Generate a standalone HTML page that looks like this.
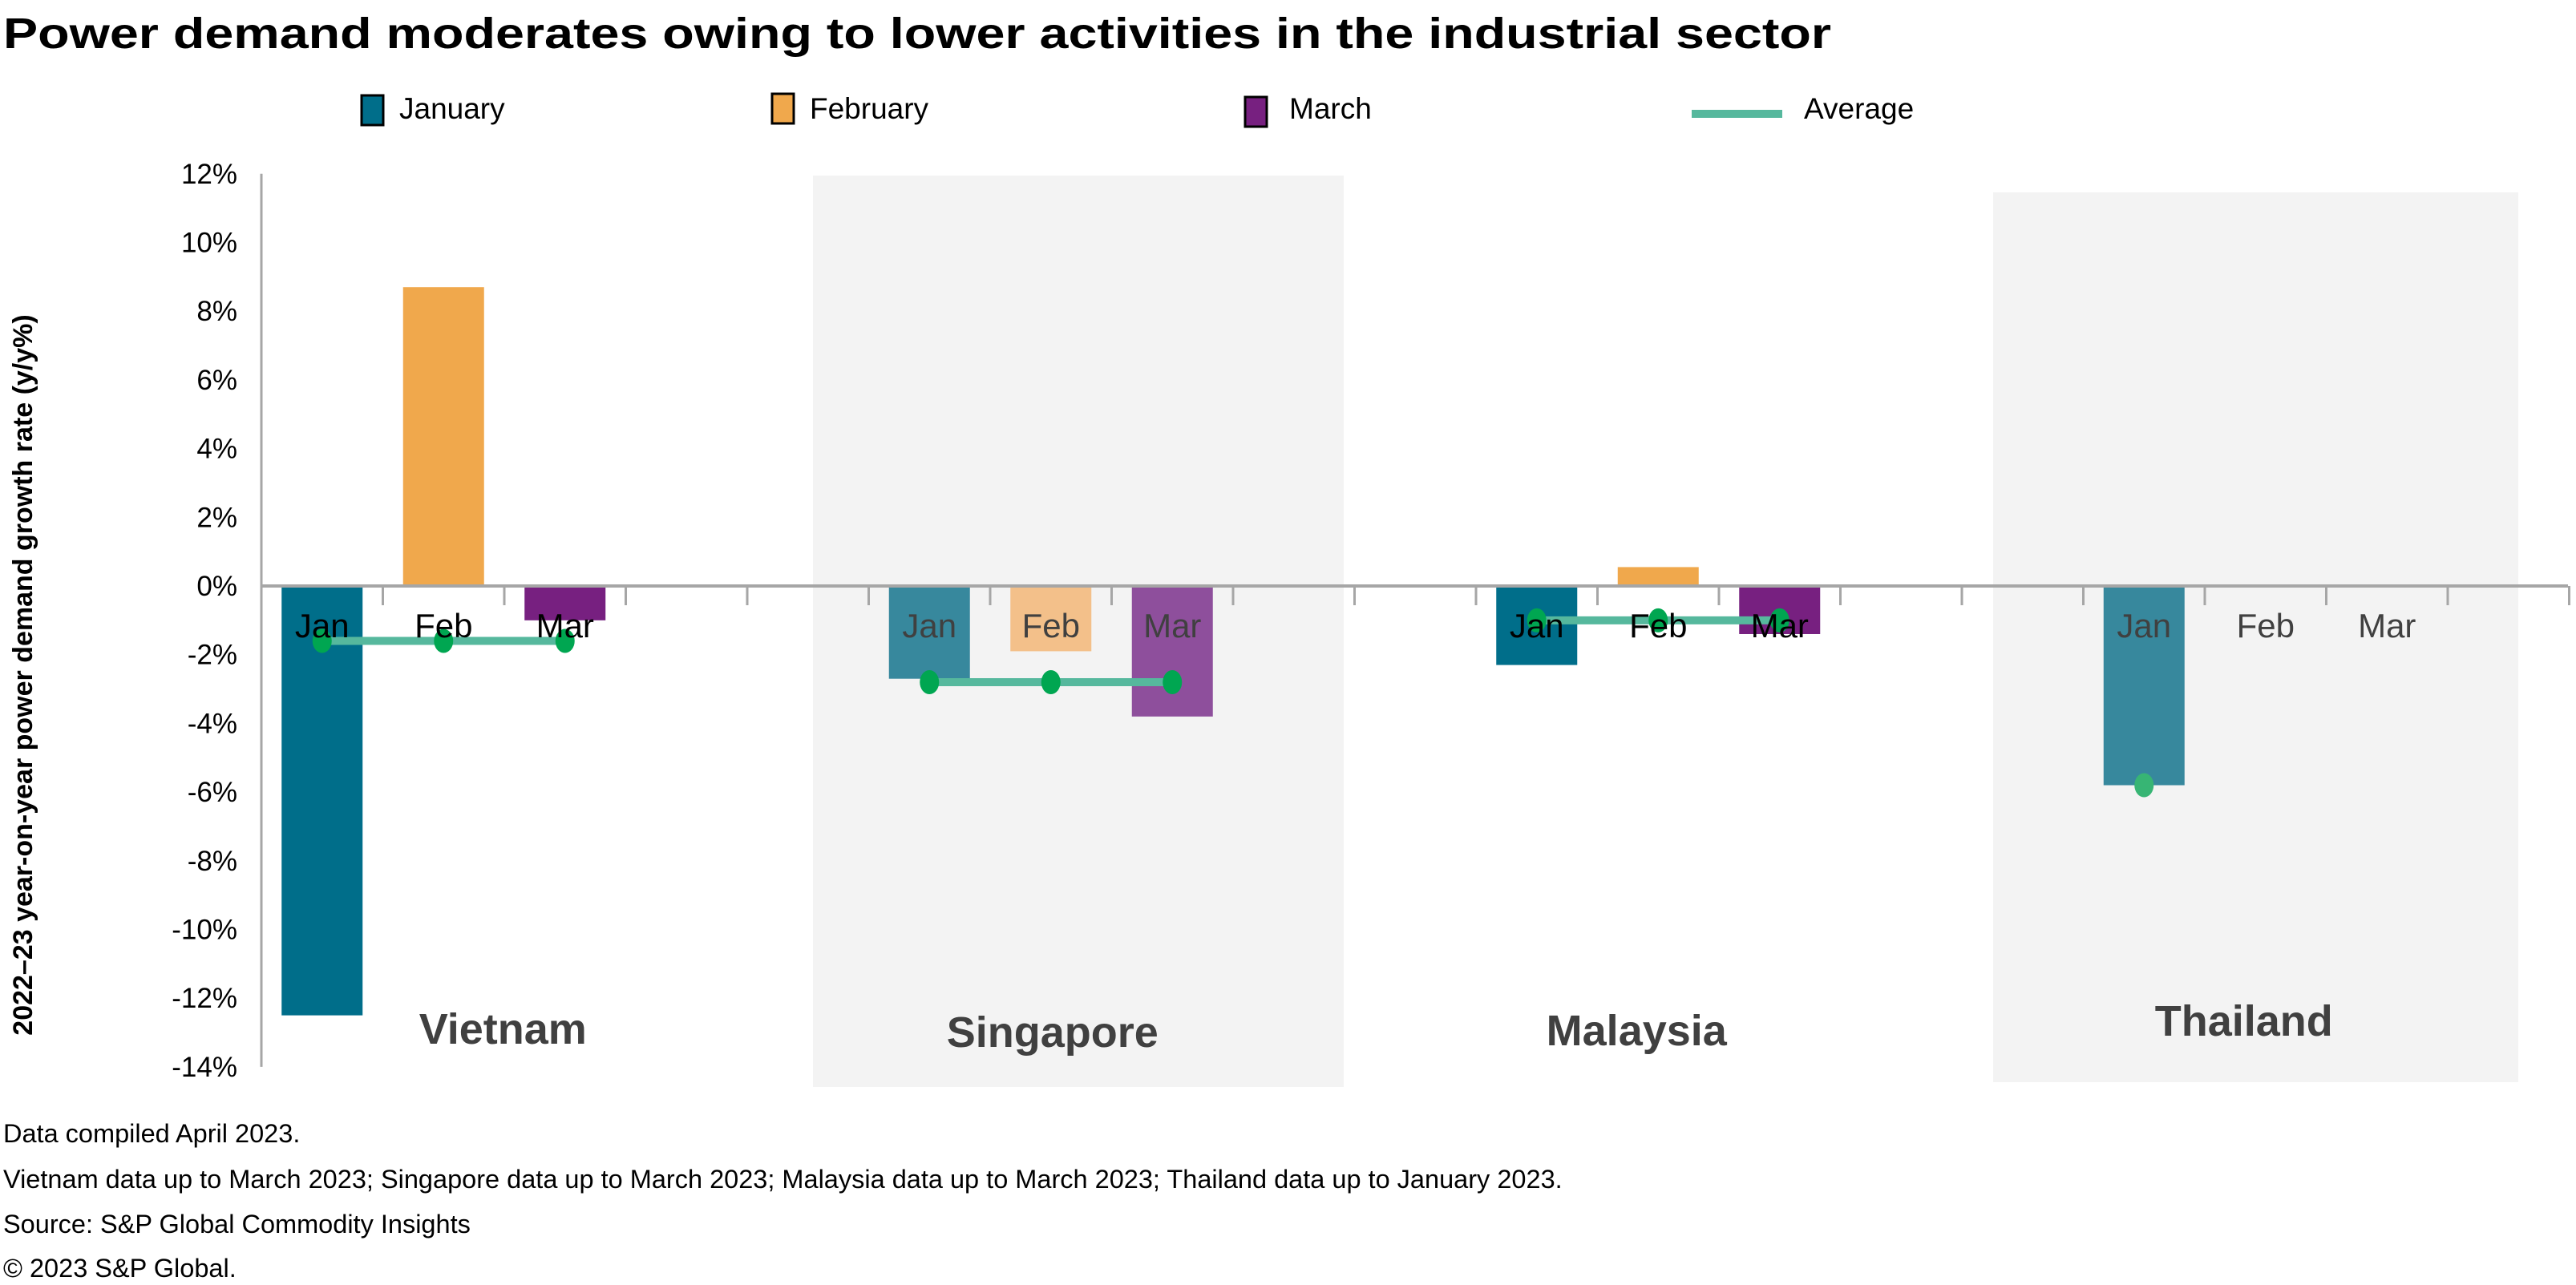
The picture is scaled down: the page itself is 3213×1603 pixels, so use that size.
<!DOCTYPE html>
<html><head><meta charset="utf-8"><style>
html,body{margin:0;padding:0;background:#fff}
svg{display:block;font-family:"Liberation Sans",Arial,sans-serif}
</style></head><body>
<svg id="chart" width="3213" height="1603" viewBox="0 0 3213 1603">
<text x="4" y="60" font-size="54" font-weight="bold" fill="#000" textLength="2280" lengthAdjust="spacingAndGlyphs">Power demand moderates owing to lower activities in the industrial sector</text>
<g font-size="37" fill="#000">
<g><rect x="451" y="119" width="27" height="37" fill="#006e8a" stroke="#000" stroke-width="3"/><text x="498" y="148">January</text></g>
<g><rect x="963" y="117" width="27" height="37" fill="#f0a84c" stroke="#000" stroke-width="3"/><text x="1010" y="148">February</text></g>
<g><rect x="1553" y="121" width="27" height="37" fill="#772080" stroke="#000" stroke-width="3"/><text x="1608" y="148">March</text></g>
<g><line x1="2110" y1="142" x2="2223" y2="142" stroke="#56b89d" stroke-width="10"/><text x="2250" y="148">Average</text></g>
</g>
<text transform="translate(40,842) rotate(-90)" text-anchor="middle" font-size="34" font-weight="bold" fill="#000">2022–23 year-on-year power demand growth rate (y/y%)</text>
<g id="plot"></g>
<g font-size="32.5" fill="#000">
<text x="4" y="1425">Data compiled April 2023.</text>
<text x="4" y="1482">Vietnam data up to March 2023; Singapore data up to March 2023; Malaysia data up to March 2023; Thailand data up to January 2023.</text>
<text x="4" y="1538">Source: S&amp;P Global Commodity Insights</text>
<text x="4" y="1593">© 2023 S&amp;P Global.</text>
</g>
</svg>
<script>
const countries = ["Vietnam", "Singapore", "Malaysia", "Thailand"];
const months = ["Jan", "Feb", "Mar"];
const janValues = [-12.5, -2.7, -2.3, -5.8];
const febValues = [8.7, -1.9, 0.55, null];
const marValues = [-1.0, -3.8, -1.4, null];
const avgValues = [-1.6, -2.8, -1.0, -5.8];
const yTicks = [12, 10, 8, 6, 4, 2, 0, -2, -4, -6, -8, -10, -12, -14];
const tickLabels = ["12%","10%","8%","6%","4%","2%","0%","-2%","-4%","-6%","-8%","-10%","-12%","-14%"];

const NS = "http://www.w3.org/2000/svg";
const plot = document.getElementById("plot");
const X0 = 326, SLOT = 151.5, NSLOTS = 19;
const Y0 = 731, PX = 42.85;
function y(v){ return Y0 - v*PX; }
function slotX(i){ return X0 + i*SLOT; }
function slotOf(c, m){ return c*5 + m; }
function mk(tag, attrs){ const e = document.createElementNS(NS, tag); for (const k in attrs) e.setAttribute(k, attrs[k]); plot.appendChild(e); return e; }

const shade = [{c:1, x1:1014, x2:1676, y1:219, y2:1356},{c:3, x1:2486, x2:3141, y1:240, y2:1350}];
shade.forEach(s => {
  const r = mk("rect", {x:s.x1, y:s.y1, width:s.x2-s.x1, height:s.y2-s.y1, fill:"#f3f3f3"});
  
  
});

yTicks.forEach((t, i) => {
  const tx = mk("text", {x:296, y:y(t)+12, "text-anchor":"end", "font-size":"35", fill:"#000"});
  tx.textContent = tickLabels[i];
  
  
});

const series = [janValues, febValues, marValues];
const fullColors = ["#006e8a", "#f0a84c", "#772080"];
const lightColors = ["#37889d", "#f3c08a", "#8e4f9c"];
const BW = 101;
countries.forEach((c, ci) => {
  const light = (ci === 1 || ci === 3);
  series.forEach((vals, mi) => {
    const v = vals[ci];
    if (v === null) return;
    const cx = slotX(slotOf(ci, mi)) + SLOT/2;
    const r = mk("rect", {x:cx-BW/2, y:Math.min(y(0), y(v)), width:BW, height:Math.abs(y(v)-y(0)), fill: light ? lightColors[mi] : fullColors[mi]});
    
    
  });
});

const ax = mk("line", {x1:X0, y1:y(0), x2:3203, y2:y(0), stroke:"#a6a6a6", "stroke-width":4});


const ay = mk("line", {x1:X0, y1:y(12), x2:X0, y2:y(-14), stroke:"#a6a6a6", "stroke-width":3});


for (let i = 1; i <= NSLOTS; i++) {
  const tk = mk("line", {x1:slotX(i), y1:y(0), x2:slotX(i), y2:y(0)+24, stroke:"#a6a6a6", "stroke-width":3});
  
  
}

countries.forEach((c, ci) => {
  const av = avgValues[ci];
  const nm = ci === 3 ? 1 : 3;
  if (nm > 1) {
    const ln = mk("line", {x1:slotX(slotOf(ci,0))+SLOT/2, y1:y(av), x2:slotX(slotOf(ci,2))+SLOT/2, y2:y(av), stroke:"#56b89d", "stroke-width":10});
    
    
  }
  for (let m = 0; m < nm; m++) {
    const d = mk("ellipse", {cx:slotX(slotOf(ci,m))+SLOT/2, cy:y(av), rx:12, ry:15, fill: ci===3 ? "#37b574" : "#00a651"});
    
    
  }
});

countries.forEach((c, ci) => {
  const light = (ci === 1 || ci === 3);
  months.forEach((m, mi) => {
    const t = mk("text", {x:slotX(slotOf(ci,mi))+SLOT/2, y:795, "text-anchor":"middle", "font-size":"42", fill: light ? "#404040" : "#000"});
    t.textContent = m;
    
    
  });
});

const cy = [1302, 1306, 1304, 1292];
const cdx = [74, 2, -27, -27];
countries.forEach((c, ci) => {
  const t = mk("text", {x:slotX(slotOf(ci,1))+SLOT/2 + cdx[ci], y:cy[ci], "text-anchor":"middle", "font-size":"54", "font-weight":"bold", fill:"#404040"});
  t.textContent = c;
  
  
});
</script>
</body></html>
